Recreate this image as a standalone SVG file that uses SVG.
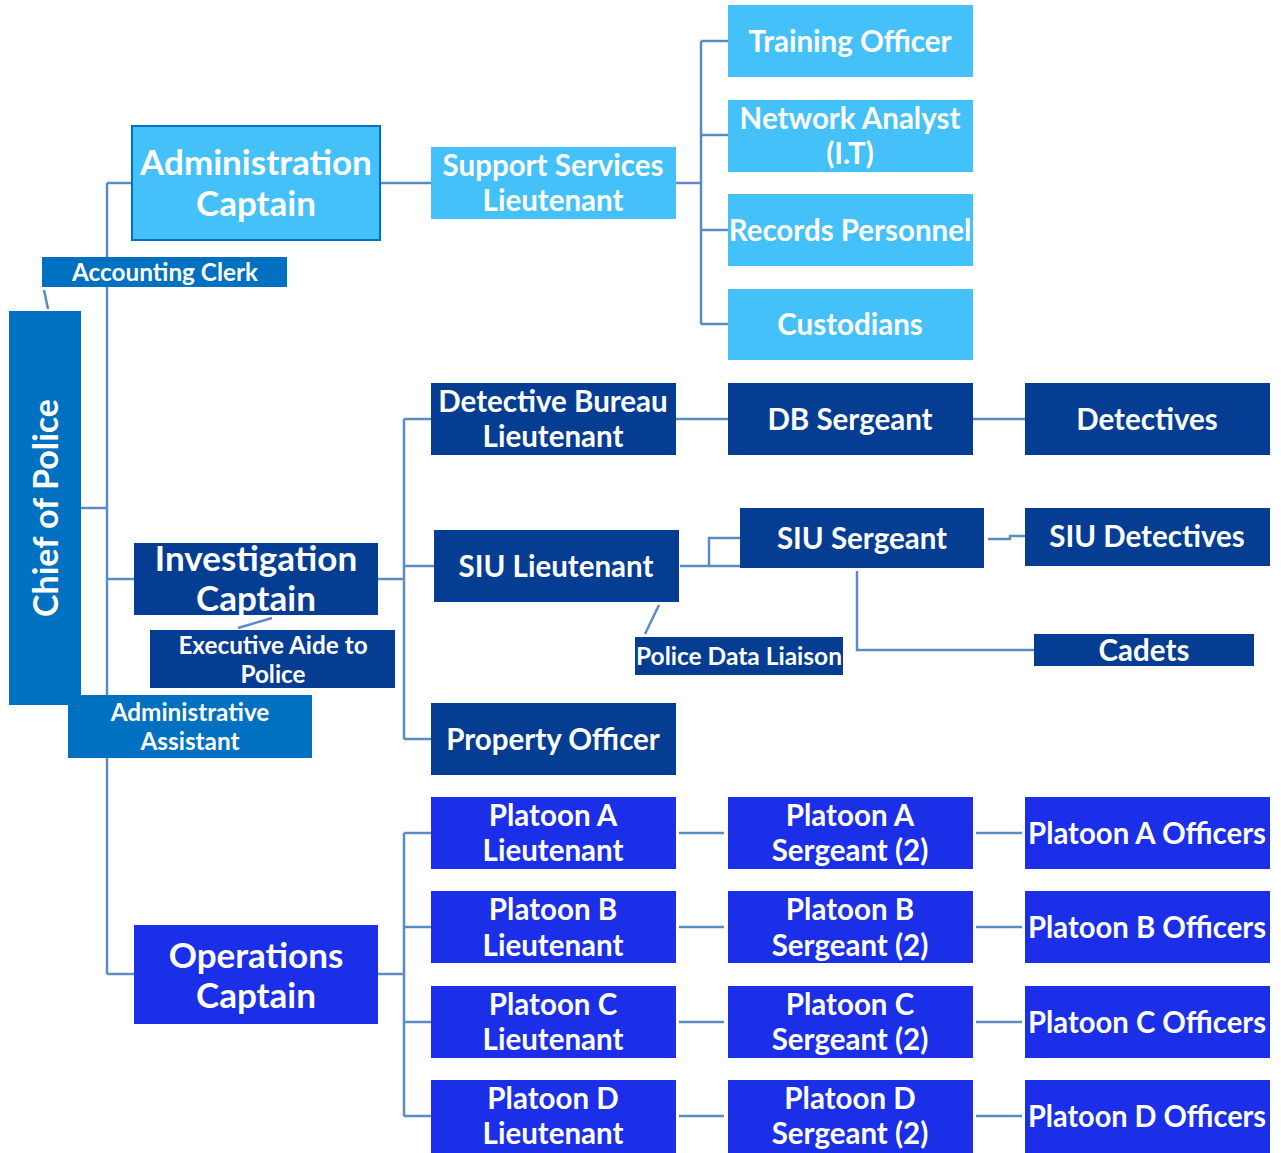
<svg xmlns="http://www.w3.org/2000/svg" width="1281" height="1153" viewBox="0 0 1281 1153">
<style>
.lb{fill:#45C1F9}
.mb{fill:#0070C0}
.nv{fill:#043D92}
.bb{fill:#1B2FE8}
text{font-family:Lato,"Open Sans","Liberation Sans",sans-serif;font-weight:bold;fill:#fff;text-anchor:middle;dominant-baseline:central}
.f33{font-size:35px}
.f28{font-size:29.5px}
.f23{font-size:24.3px}
.f22{font-size:24.5px}
.c{fill:none;stroke:#5A8CC2;stroke-width:2.5}
</style>
<rect width="1281" height="1153" fill="#fff"/>
<g id="connectors" class="c">
<path d="M107 183V974"/>
<path d="M107 183H131"/>
<path d="M81 508H107"/>
<path d="M107 579H134"/>
<path d="M107 974H134"/>
<path d="M44 290L48 309"/>
<path d="M238 628L272 618"/>
<path d="M381 183H431"/>
<path d="M676 183H701"/>
<path d="M701 41V324"/>
<path d="M701 41H728M701 135H728M701 230H728M701 324H728"/>
<path d="M378 579H404"/>
<path d="M404 419V739"/>
<path d="M404 419H431M404 566H434M404 739H431"/>
<path d="M676 419H728M973 419H1025"/>
<path d="M680 566H740M709 566V538H740"/>
<path d="M988 539H1010V536H1025"/>
<path d="M857 571V650H1034"/>
<path d="M659 605L645 634"/>
<path d="M378 974H404"/>
<path d="M404 833V1116"/>
<path d="M404 833H431M404 927H431M404 1022H431M404 1116H431"/>
<path d="M679 833H724M679 927H724M679 1022H724M679 1116H724"/>
<path d="M976 833H1022M976 927H1022M976 1022H1022M976 1116H1022"/>
</g>
<g id="chief"><rect class="mb" x="9" y="311" width="72" height="394"/><text transform="translate(44 508) rotate(-90)" style="font-size:34px">Chief of Police</text></g>
<g id="admin-captain"><rect class="lb" x="132" y="126" width="248" height="114" stroke="#0070C0" stroke-width="2"/><text class="f33" x="256" y="161">Administration</text><text class="f33" x="256" y="202">Captain</text></g>
<g id="accounting-clerk"><rect class="mb" x="42" y="257" width="245" height="30"/><text class="f23" x="165" y="271">Accounting Clerk</text></g>
<g id="investigation-captain"><rect class="nv" x="134" y="543" width="244" height="72"/><text class="f33" x="256" y="557">Investigation</text><text class="f33" x="256" y="597">Captain</text></g>
<g id="executive-aide"><rect class="nv" x="150" y="630" width="245" height="58"/><text class="f23" x="273" y="644">Executive Aide to</text><text class="f23" x="273" y="673">Police</text></g>
<g id="administrative-assistant"><rect class="mb" x="68" y="695" width="244" height="63"/><text class="f23" x="190" y="711">Administrative</text><text class="f23" x="190" y="740">Assistant</text></g>
<g id="operations-captain"><rect class="bb" x="134" y="925" width="244" height="99"/><text class="f33" x="256" y="954">Operations</text><text class="f33" x="256" y="994">Captain</text></g>
<g id="support-services"><rect class="lb" x="431" y="147" width="245" height="72"/><text class="f28" x="553" y="164">Support Services</text><text class="f28" x="553" y="199">Lieutenant</text></g>
<g id="training-officer"><rect class="lb" x="728" y="5" width="245" height="72"/><text class="f28" x="850" y="40">Training Officer</text></g>
<g id="network-analyst"><rect class="lb" x="728" y="100" width="245" height="72"/><text class="f28" x="850" y="117">Network Analyst</text><text class="f28" x="850" y="152">(I.T)</text></g>
<g id="records-personnel"><rect class="lb" x="728" y="194" width="245" height="72"/><text class="f28" x="850" y="229">Records Personnel</text></g>
<g id="custodians"><rect class="lb" x="728" y="289" width="245" height="71"/><text class="f28" x="850" y="323">Custodians</text></g>
<g id="db-lieutenant"><rect class="nv" x="431" y="383" width="245" height="72"/><text class="f28" x="553" y="400">Detective Bureau</text><text class="f28" x="553" y="435">Lieutenant</text></g>
<g id="db-sergeant"><rect class="nv" x="728" y="383" width="245" height="72"/><text class="f28" x="850" y="418">DB Sergeant</text></g>
<g id="detectives"><rect class="nv" x="1025" y="383" width="245" height="72"/><text class="f28" x="1147" y="418">Detectives</text></g>
<g id="siu-lieutenant"><rect class="nv" x="434" y="530" width="245" height="72"/><text class="f28" x="556" y="565">SIU Lieutenant</text></g>
<g id="siu-sergeant"><rect class="nv" x="740" y="508" width="244" height="60"/><text class="f28" x="862" y="537">SIU Sergeant</text></g>
<g id="siu-detectives"><rect class="nv" x="1025" y="508" width="245" height="58"/><text class="f28" x="1147" y="535">SIU Detectives</text></g>
<g id="cadets"><rect class="nv" x="1034" y="634" width="220" height="32"/><text class="f28" x="1144" y="649">Cadets</text></g>
<g id="police-data-liaison"><rect class="nv" x="635" y="637" width="208" height="38"/><text class="f22" x="739" y="655">Police Data Liaison</text></g>
<g id="property-officer"><rect class="nv" x="431" y="703" width="245" height="72"/><text class="f28" x="553" y="738">Property Officer</text></g>
<g id="platoon-a-lt"><rect class="bb" x="431" y="797" width="245" height="72"/><text class="f28" x="553" y="814">Platoon A</text><text class="f28" x="553" y="849">Lieutenant</text></g>
<g id="platoon-b-lt"><rect class="bb" x="431" y="891" width="245" height="72"/><text class="f28" x="553" y="908">Platoon B</text><text class="f28" x="553" y="944">Lieutenant</text></g>
<g id="platoon-c-lt"><rect class="bb" x="431" y="986" width="245" height="72"/><text class="f28" x="553" y="1003">Platoon C</text><text class="f28" x="553" y="1038">Lieutenant</text></g>
<g id="platoon-d-lt"><rect class="bb" x="431" y="1080" width="245" height="73"/><text class="f28" x="553" y="1097">Platoon D</text><text class="f28" x="553" y="1132">Lieutenant</text></g>
<g id="platoon-a-sgt"><rect class="bb" x="728" y="797" width="245" height="72"/><text class="f28" x="850" y="814">Platoon A</text><text class="f28" x="850" y="849">Sergeant (2)</text></g>
<g id="platoon-b-sgt"><rect class="bb" x="728" y="891" width="245" height="72"/><text class="f28" x="850" y="908">Platoon B</text><text class="f28" x="850" y="944">Sergeant (2)</text></g>
<g id="platoon-c-sgt"><rect class="bb" x="728" y="986" width="245" height="72"/><text class="f28" x="850" y="1003">Platoon C</text><text class="f28" x="850" y="1038">Sergeant (2)</text></g>
<g id="platoon-d-sgt"><rect class="bb" x="728" y="1080" width="245" height="73"/><text class="f28" x="850" y="1097">Platoon D</text><text class="f28" x="850" y="1132">Sergeant (2)</text></g>
<g id="platoon-a-off"><rect class="bb" x="1025" y="797" width="245" height="72"/><text class="f28" x="1147" y="832" textLength="238" lengthAdjust="spacingAndGlyphs">Platoon A Officers</text></g>
<g id="platoon-b-off"><rect class="bb" x="1025" y="891" width="245" height="72"/><text class="f28" x="1147" y="926" textLength="238" lengthAdjust="spacingAndGlyphs">Platoon B Officers</text></g>
<g id="platoon-c-off"><rect class="bb" x="1025" y="986" width="245" height="72"/><text class="f28" x="1147" y="1021" textLength="238" lengthAdjust="spacingAndGlyphs">Platoon C Officers</text></g>
<g id="platoon-d-off"><rect class="bb" x="1025" y="1080" width="245" height="73"/><text class="f28" x="1147" y="1115" textLength="238" lengthAdjust="spacingAndGlyphs">Platoon D Officers</text></g>
</svg>
